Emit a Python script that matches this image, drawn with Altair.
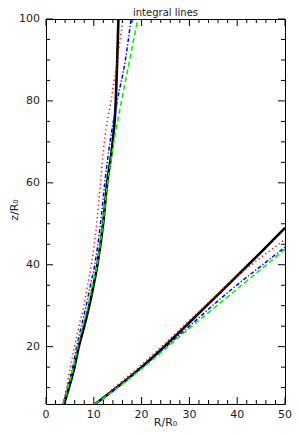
import altair as alt
import pandas as pd

# ---- data ----
# inner field lines: R as a function of z
z_inner = [6, 10, 15, 20, 25, 30, 35, 40, 50, 60, 70, 80, 90, 100]
R_black_inner = [3.77, 4.8, 5.95, 6.86, 8.0, 9.05, 9.95, 10.75, 11.95, 12.8, 13.95, 14.6, 14.9, 15.15]
R_red_inner = [3.55, 4.3, 5.1, 5.97, 6.9, 7.9, 8.7, 9.5, 10.6, 11.4, 12.2, 13.6, 14.9, 16.1]
R_blue_inner = [3.6, 4.5, 5.6, 6.4, 7.4, 8.4, 9.3, 10.2, 11.4, 12.3, 13.4, 14.9, 16.6, 17.8]
R_green_inner = [3.65, 4.6, 5.75, 6.65, 7.7, 8.8, 9.7, 10.7, 11.9, 12.9, 14.2, 15.8, 17.5, 19.2]

# outer field lines: z as a function of R
R_outer = [10.3, 15, 20, 25, 30, 35, 40, 45, 50]
z_black_outer = [6, 10.2, 15.0, 20.3, 25.9, 31.6, 37.3, 43.1, 49.0]
z_red_outer = [6, 10.7, 15.6, 20.9, 26.4, 31.9, 37.2, 41.8, 46.2]
z_blue_outer = [6, 10.1, 14.8, 19.9, 25.0, 30.2, 35.1, 39.7, 44.3]
z_green_outer = [6, 10.0, 14.6, 19.5, 24.5, 29.3, 34.1, 38.9, 43.8]

x_labels = [0, 10, 20, 30, 40, 50]
x_minor = [v for v in range(2, 50, 2) if v % 10 != 0]
y_labels = [20, 40, 60, 80, 100]
y_minor = [v for v in range(10, 100, 5) if v % 20 != 0]

X0, X1 = 0, 50
Y0, Y1 = 6, 100
W, H = 239, 385

rows = []
def add(series, Rs, zs, curve):
    for i, (r, z) in enumerate(zip(Rs, zs)):
        rows.append({"series": series, "curve": curve, "R": r, "z": z, "i": i})

add("black", R_black_inner, z_inner, "in")
add("red", R_red_inner, z_inner, "in")
add("blue", R_blue_inner, z_inner, "in")
add("green", R_green_inner, z_inner, "in")
add("black", R_outer, z_black_outer, "out")
add("red", R_outer, z_red_outer, "out")
add("blue", R_outer, z_blue_outer, "out")
add("green", R_outer, z_green_outer, "out")
df = pd.DataFrame(rows)

xscale = alt.Scale(domain=[X0, X1], nice=False, zero=False)
yscale = alt.Scale(domain=[Y0, Y1], nice=False, zero=False)

FONT = "DejaVu Sans"
LABEL_COLOR = "#222222"

styles = {
    "black": dict(color="#000000", strokeWidth=2.6),
    "red": dict(color="#ff0000", strokeWidth=1.5, strokeDash=[1.2, 3]),
    "blue": dict(color="#0000ff", strokeWidth=1.5, strokeDash=[4, 2, 1.2, 2]),
    "green": dict(color="#00ee00", strokeWidth=1.5, strokeDash=[5, 3]),
}

layers = []
for s in ["black", "red", "blue", "green"]:
    layers.append(
        alt.Chart(df).transform_filter(alt.datum.series == s)
        .mark_line(clip=True, interpolate="monotone", **styles[s]).encode(
            x=alt.X("R:Q", scale=xscale, axis=None),
            y=alt.Y("z:Q", scale=yscale, axis=None),
            detail="curve:N",
            order="i:Q",
        )
    )

# inward ticks on all four sides, drawn as short two-point segments
dx_px = (X1 - X0) / W   # data units per pixel along x
dy_px = (Y1 - Y0) / H   # data units per pixel along y
trows = []
tid = 0
def seg(x_a, y_a, x_b, y_b):
    global tid
    trows.append({"id": tid, "k": 0, "tx": x_a, "ty": y_a})
    trows.append({"id": tid, "k": 1, "tx": x_b, "ty": y_b})
    tid += 1

for vals, L in ((x_labels, 7), (x_minor, 4)):
    for v in vals:
        seg(v, Y0, v, Y0 + L * dy_px)
        seg(v, Y1, v, Y1 - L * dy_px)
for vals, L in ((y_labels, 7), (y_minor, 4)):
    for v in vals:
        seg(X0, v, X0 + L * dx_px, v)
        seg(X1, v, X1 - L * dx_px, v)

ticks = alt.Chart(pd.DataFrame(trows)).mark_line(color="#000000", strokeWidth=1).encode(
    x=alt.X("tx:Q", scale=xscale, axis=None),
    y=alt.Y("ty:Q", scale=yscale, axis=None),
    detail="id:N",
    order="k:Q",
)

# tick labels, axis titles and the title as text
xl = alt.Chart(pd.DataFrame({"v": x_labels})).mark_text(
    font=FONT, fontSize=11, color=LABEL_COLOR, align="center", baseline="top").encode(
    x=alt.X("v:Q", scale=xscale, axis=None), y=alt.value(H + 5), text="v:Q")
yl = alt.Chart(pd.DataFrame({"v": y_labels})).mark_text(
    font=FONT, fontSize=11, color=LABEL_COLOR, align="right", baseline="middle").encode(
    y=alt.Y("v:Q", scale=yscale, axis=None), x=alt.value(-6), text="v:Q")
xt = alt.Chart(pd.DataFrame({"t": ["R/R₀"]})).mark_text(
    font=FONT, fontSize=11, color=LABEL_COLOR, align="center", baseline="middle").encode(
    x=alt.value(W / 2), y=alt.value(H + 19), text="t:N")
yt = alt.Chart(pd.DataFrame({"t": ["z/R₀"]})).mark_text(
    font=FONT, fontSize=11, color=LABEL_COLOR, align="center", baseline="middle",
    angle=270).encode(
    x=alt.value(-31), y=alt.value(191), text="t:N")
tt = alt.Chart(pd.DataFrame({"t": ["integral lines"]})).mark_text(
    font=FONT, fontSize=10, color=LABEL_COLOR, align="center", baseline="alphabetic").encode(
    x=alt.value(W / 2), y=alt.value(-3.5), text="t:N")

chart = alt.layer(*(layers + [ticks, xl, yl, xt, yt, tt])).properties(
    width=W, height=H,
    autosize=alt.AutoSizeParams(type="none"),
    padding={"left": 38, "top": 11, "right": 7, "bottom": 24},
).configure_view(stroke="#000000", strokeWidth=1)

chart.save("out.html", embed_options={"renderer": "svg", "actions": False})
